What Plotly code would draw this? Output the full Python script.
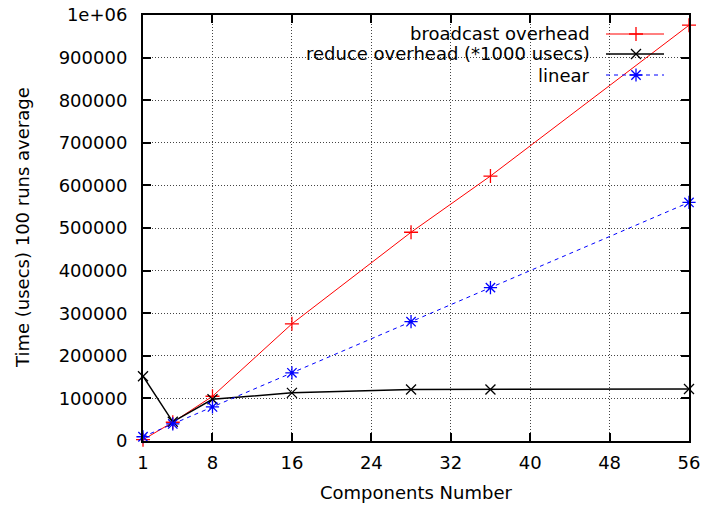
import plotly.graph_objects as go

# ---- data ----
components = [1, 4, 8, 16, 28, 36, 56]
broadcast_overhead = [3000, 44000, 105000, 275000, 490000, 622000, 976000]
reduce_overhead = [152000, 45000, 98000, 113000, 121000, 121000, 122000]
linear = [10000, 40000, 80000, 160000, 280000, 360000, 560000]

x_ticks = [1, 8, 16, 24, 32, 40, 48, 56]
y_ticks = [0, 100000, 200000, 300000, 400000, 500000, 600000, 700000, 800000, 900000, 1000000]
y_ticktext = ["0", "100000", "200000", "300000", "400000", "500000", "600000",
              "700000", "800000", "900000", "1e+06"]

legend_names = ["broadcast overhead", "reduce overhead (*1000 usecs)", "linear"]

FONT = "DejaVu Sans"
FS = 18

W, H = 703, 506
L, R, T, B = 143, 689, 15, 441


def px_x(p):
    return (p - L) / (R - L)


def px_y(p):
    return (B - p) / (B - T)


fig = go.Figure()

styles = [
    dict(color="#ff0000", width=1, dash="solid", symbol="cross-thin", size=10),
    dict(color="#000000", width=1.5, dash="solid", symbol="x-thin", size=10),
    dict(color="#0000ff", width=1, dash="4px,4px", symbol="asterisk", size=11),
]
series = [broadcast_overhead, reduce_overhead, linear]

for name, ys, st in zip(legend_names, series, styles):
    fig.add_trace(go.Scatter(
        x=components, y=ys, mode="lines+markers", name=name, showlegend=False,
        line=dict(color=st["color"], width=st["width"], dash=st["dash"]),
        marker=dict(symbol=st["symbol"], size=st["size"], color=st["color"],
                    line=dict(color=st["color"], width=1.3)),
        cliponaxis=False,
    ))

# ---- custom gnuplot-style legend ----
row_y = [34, 54, 75]
text_right = 592
samp_l, samp_r, samp_c = 606, 664, 636

fig.add_shape(type="rect", xref="paper", yref="paper",
              x0=px_x(237), x1=1, y0=px_y(88), y1=1,
              fillcolor="white", line=dict(width=0), layer="between")

for name, ry, st in zip(legend_names, row_y, styles):
    fig.add_annotation(x=px_x(text_right), y=px_y(ry), xref="paper", yref="paper",
                       text=name, showarrow=False, xanchor="right", yanchor="middle",
                       font=dict(family=FONT, size=FS, color="black"))
    fig.add_shape(type="line", xref="paper", yref="paper",
                  x0=px_x(samp_l), x1=px_x(samp_r), y0=px_y(ry), y1=px_y(ry),
                  line=dict(color=st["color"], width=st["width"], dash=st["dash"]),
                  layer="above")
    fig.add_trace(go.Scatter(
        x=[px_x(samp_c)], y=[px_y(ry)], xaxis="x2", yaxis="y2", mode="markers",
        showlegend=False, hoverinfo="skip",
        marker=dict(symbol=st["symbol"], size=st["size"], color=st["color"],
                    line=dict(color=st["color"], width=1.3)),
    ))

# axis titles
fig.add_annotation(x=0.5, y=px_y(492), xref="paper", yref="paper",
                   text="Components Number", showarrow=False,
                   xanchor="center", yanchor="middle",
                   font=dict(family=FONT, size=FS, color="black"))
fig.add_annotation(x=px_x(22), y=px_y(228), xref="paper", yref="paper",
                   text="Time (usecs) 100 runs average", showarrow=False, textangle=-90,
                   xanchor="center", yanchor="middle",
                   font=dict(family=FONT, size=FS, color="black"))

axis_common = dict(
    showline=True, linecolor="black", linewidth=2, mirror="allticks",
    ticks="inside", ticklen=8, tickwidth=1.5, tickcolor="black",
    showgrid=True, gridcolor="#444444", griddash="1px,2px", gridwidth=1,
    zeroline=False, automargin=False,
    tickfont=dict(family=FONT, size=FS, color="black"),
)

fig.update_layout(
    width=W, height=H,
    margin=dict(l=L, r=W - R, t=T, b=H - B, autoexpand=False),
    paper_bgcolor="white", plot_bgcolor="white",
    showlegend=False,
    xaxis=dict(range=[1, 56], tickvals=x_ticks, ticktext=[str(v) for v in x_ticks],
               ticklabelstandoff=4, **axis_common),
    yaxis=dict(range=[0, 1000000], tickvals=y_ticks, ticktext=y_ticktext,
               ticklabelstandoff=10, **axis_common),
    xaxis2=dict(range=[0, 1], overlaying="x", visible=False, fixedrange=True),
    yaxis2=dict(range=[0, 1], overlaying="y", visible=False, fixedrange=True),
)

fig.write_html("out.html", config={"displayModeBar": False},
               post_script="document.body.style.margin='0';document.body.style.overflow='hidden';")
